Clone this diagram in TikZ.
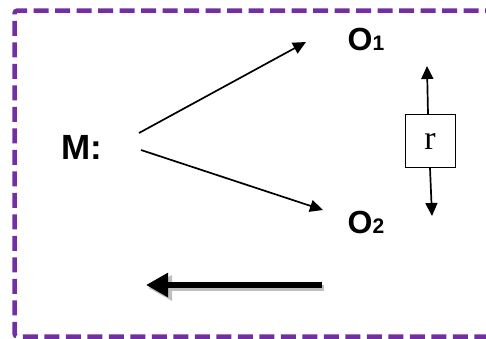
\documentclass[tikz,border=0pt]{standalone}
\usepackage{fontspec}
\setmainfont{Liberation Sans}
\newfontfamily\serifr{Liberation Serif}
\usetikzlibrary{arrows.meta}
\definecolor{bordpurple}{HTML}{7030A0}
\newcommand{\subdig}[1]{{\fontsize{21}{24}\selectfont\bfseries #1}}
\tikzset{
  lbl/.style={font=\fontsize{32}{36}\selectfont\bfseries, inner sep=0pt},
  mlbl/.style={font=\fontsize{35}{40}\selectfont\bfseries, inner sep=0pt},
  thin arrow/.style={line width=1.7pt, -{Triangle[length=13pt,width=12pt]}},
  rbox/.style={draw, line width=0.9pt, minimum width=50pt, minimum height=53pt, inner sep=0pt, font=\fontsize{34}{36}\selectfont\serifr},
  border/.style={draw=bordpurple, line width=4.5pt, dash pattern=on 15pt off 6.5pt, rounded corners=3pt},
}
\begin{document}
\begin{tikzpicture}[x=1pt,y=-1pt]
\useasboundingbox (0,0) rectangle (486,338);
\clip (0,0) rectangle (486,338);
\draw[border] (500,10.5) -- (14.5,10.5) -- (14.5,336.5) -- (500,336.5);
% labels
\node[mlbl] (m) at (82,147) {M:};
\node[lbl] (o1) at (366,39) {O\subdig{1}};
\node[lbl] (o2) at (366,222) {O\subdig{2}};
\coordinate (m1) at (139,133);
\coordinate (m2) at (141,150);
\coordinate (t1) at (306,42);
\coordinate (t2) at (323,210);
\draw[thin arrow] (m1) -- (t1);
\draw[thin arrow] (m2) -- (t2);
% box r
\node[rbox] (r) at (430,141) {r};
\coordinate (up) at (427,66);
\coordinate (dn) at (432,216);
\draw[thin arrow] (r.north -| 428,0) -- (up);
\draw[thin arrow] (r.south -| 430,0) -- (dn);
% thick arrow
\coordinate (ta) at (322,285);
\coordinate (tb) at (146,285);
\coordinate (sa) at (324,288);
\coordinate (sb) at (148,288);
\draw[line width=6.5pt, black!25, -{Triangle[length=24pt,width=24pt]}] (sa) -- (sb);
\draw[line width=6.5pt, -{Triangle[length=22pt,width=23pt]}] (ta) -- (tb);
\end{tikzpicture}
\end{document}
